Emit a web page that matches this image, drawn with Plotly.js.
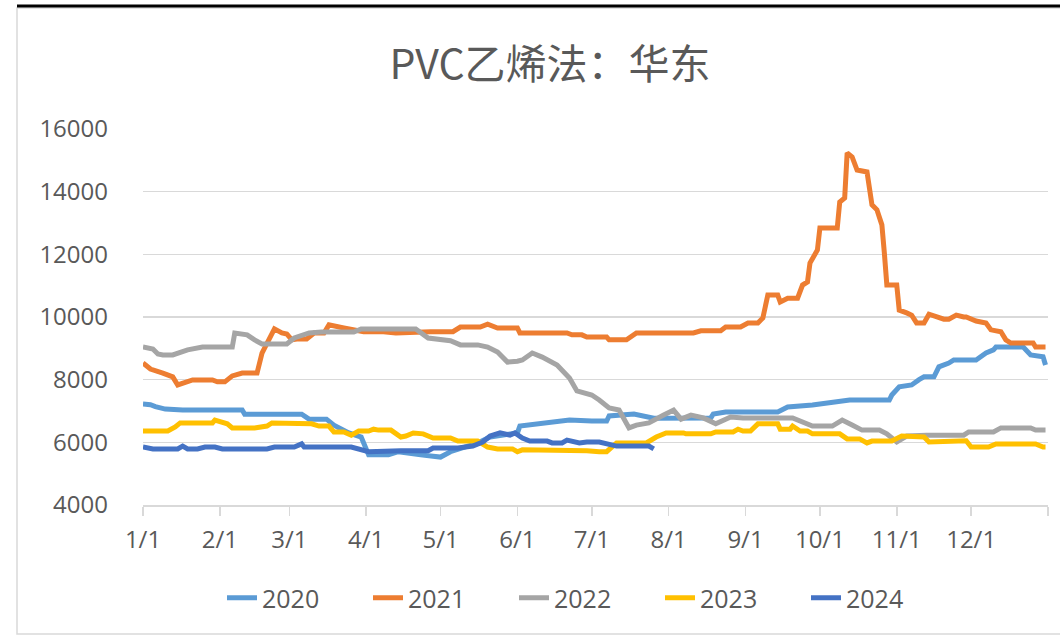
<!DOCTYPE html>
<html>
<head>
<meta charset="utf-8">
<script src="https://cdn.plot.ly/plotly-3.0.1.min.js"></script>
<style>
  html, body { margin: 0; padding: 0; background: #ffffff; }
  #chart { width: 1060px; height: 639px; }
</style>
</head>
<body>
<div id="chart"></div>
<script>
// Day of year (0 = 1/1) and price values
const day2020 = [0,3,5,9,16,40,41,64,67,74,77,83,88,91,99,103,112,120,124,135,140,151,152,161,172,181,187,188,198,206,212,229,230,235,256,260,270,282,285,301,302,305,310,313,315,319,321,325,327,336,338,340,343,344,355,358,363,364];
const val2020 = [7220,7200,7140,7060,7030,7030,6900,6900,6740,6740,6550,6300,6170,5600,5600,5700,5600,5530,5700,5980,6170,6300,6520,6620,6710,6680,6680,6840,6900,6770,6770,6780,6900,6970,6970,7130,7190,7290,7350,7350,7510,7770,7830,8000,8090,8090,8410,8530,8630,8630,8730,8850,8950,9040,9040,8790,8730,8470];

const day2021 = [0,3,8,12,14,17,20,28,30,33,36,40,46,48,50,53,56,58,60,62,66,69,73,75,81,89,97,102,116,125,128,136,139,143,151,152,171,173,177,179,187,188,195,199,222,225,233,235,241,244,248,250,252,256,257,260,264,266,268,269,272,273,280,281,283,284,286,288,292,293,294,296,298,299,300,304,305,308,310,312,315,317,320,323,325,328,331,332,336,340,342,346,348,350,359,360,364];
const val2021 = [8530,8340,8210,8090,7830,7900,7990,7990,7930,7930,8120,8210,8210,8850,9170,9620,9490,9460,9270,9300,9300,9490,9490,9750,9650,9530,9530,9490,9530,9530,9680,9680,9770,9650,9650,9490,9490,9430,9430,9360,9360,9270,9270,9490,9490,9560,9560,9680,9680,9810,9810,9970,10700,10700,10480,10600,10600,11020,11120,11720,12140,12840,12840,13670,13800,15240,15110,14690,14630,13960,13580,13420,12940,12040,11020,11020,10220,10130,10060,9810,9810,10090,10000,9930,9930,10060,10000,10000,9870,9810,9590,9530,9270,9170,9170,9040,9040];

const day2022 = [0,4,6,8,12,14,18,24,36,37,42,45,48,58,61,67,72,85,88,110,115,124,128,135,139,143,147,151,153,157,161,167,172,175,181,184,188,192,196,199,204,210,214,217,221,226,231,237,242,262,266,270,278,282,286,290,297,300,304,308,316,331,333,343,346,358,360,364];
const val2022 = [9040,8980,8820,8790,8790,8850,8950,9040,9040,9490,9430,9270,9140,9140,9330,9490,9520,9520,9620,9620,9330,9240,9110,9110,9040,8880,8560,8590,8630,8850,8720,8470,8050,7640,7510,7350,7100,7030,6460,6550,6620,6870,7030,6740,6870,6780,6590,6810,6780,6780,6650,6520,6520,6710,6550,6390,6390,6270,6010,6200,6230,6230,6330,6330,6460,6460,6390,6390];

const day2023 = [0,10,13,15,28,29,34,36,45,48,50,52,56,60,68,71,75,77,81,84,87,91,93,95,100,104,106,109,113,117,124,127,135,139,143,149,151,153,167,171,179,184,187,191,203,207,211,218,219,229,231,238,240,242,245,248,256,257,261,262,265,268,270,281,284,289,292,294,302,306,310,315,317,332,334,341,344,360,363,364];
const val2023 = [6360,6360,6490,6620,6620,6710,6590,6460,6460,6520,6520,6620,6620,6590,6590,6520,6520,6330,6330,6230,6360,6360,6420,6390,6390,6170,6200,6300,6270,6140,6140,6040,6040,5850,5790,5790,5700,5760,5760,5730,5730,5700,5700,5980,5980,6170,6300,6300,6270,6270,6330,6330,6420,6360,6360,6590,6590,6420,6420,6520,6360,6360,6270,6270,6110,6110,5980,6040,6040,6200,6170,6170,6010,6050,5850,5850,5950,5950,5850,5850];

const day2024 = [0,4,14,16,18,22,25,29,32,50,53,61,64,65,84,88,91,104,115,117,127,133,137,140,144,148,150,153,156,163,165,169,171,176,179,184,187,191,204,206];
const val2024 = [5850,5790,5790,5880,5790,5790,5850,5850,5790,5790,5850,5850,5950,5850,5850,5760,5700,5730,5730,5820,5820,5880,6010,6200,6300,6230,6300,6140,6040,6040,5980,5980,6070,5980,6010,6010,5950,5880,5880,5790];

const seriesNames = ["2020","2021","2022","2023","2024"];
const tickDays = [0,31,59,90,120,151,181,212,243,273,304,334,365];
const tickLabels = ["1/1","2/1","3/1","4/1","5/1","6/1","7/1","8/1","9/1","10/1","11/1","12/1",""];
const yTicks = [4000,6000,8000,10000,12000,14000,16000];
const titleText = "PVC乙烯法：华东";

const colors = ["#5B9BD5","#ED7D31","#A5A5A5","#FFC000","#4472C4"];
const xs = [day2020, day2021, day2022, day2023, day2024];
const ys = [val2020, val2021, val2022, val2023, val2024];

const traces = seriesNames.map((name, i) => ({
  type: "scatter",
  mode: "lines",
  name: name,
  x: xs[i],
  y: ys[i],
  line: { color: colors[i], width: 5, shape: "linear" },
  hoverinfo: "skip"
}));

// pixel -> paper helpers for the chart frame
const L = 143, R = 12, T = 129, B = 134, W = 1060, H = 639;
const pw = W - L - R, ph = H - T - B;
const px = v => (v - L) / pw;
const py = v => (H - B - v) / ph;

const layout = {
  width: W,
  height: H,
  margin: { l: L, r: R, t: T, b: B, pad: 0, autoexpand: false },
  paper_bgcolor: "#ffffff",
  plot_bgcolor: "#ffffff",
  font: { family: "'Open Sans', 'Noto Sans CJK SC', sans-serif", color: "#595959", size: 24 },
  title: {
    text: titleText,
    font: { family: "'Noto Sans CJK SC', 'Open Sans', sans-serif", size: 41, color: "#595959" },
    x: 550 / W, xref: "container", xanchor: "center",
    y: 1 - 65 / H, yref: "container", yanchor: "middle"
  },
  xaxis: {
    range: [0, 365],
    tickmode: "array",
    tickvals: tickDays,
    ticktext: tickLabels,
    showgrid: false,
    zeroline: false,
    showline: true,
    linecolor: "#D9D9D9",
    linewidth: 1.5,
    ticks: "outside",
    ticklen: 9,
    tickwidth: 1.5,
    tickcolor: "#D9D9D9",
    ticklabelstandoff: 4,
    tickfont: { size: 24, color: "#595959" },
    fixedrange: true
  },
  yaxis: {
    range: [4000, 16000],
    tickmode: "array",
    tickvals: yTicks,
    ticktext: yTicks.map(String),
    showgrid: true,
    gridcolor: "#D9D9D9",
    gridwidth: 1.5,
    zeroline: false,
    showline: false,
    ticks: "",
    ticklabelstandoff: 34,
    tickfont: { size: 24, color: "#595959" },
    fixedrange: true
  },
  showlegend: true,
  legend: {
    orientation: "h",
    x: px(222), xanchor: "left",
    y: py(598), yanchor: "middle",
    font: { size: 25, color: "#595959" },
    entrywidth: 101,
    entrywidthmode: "pixels",
    bgcolor: "rgba(0,0,0,0)"
  },
  shapes: [
    { type: "rect", xref: "paper", yref: "paper",
      x0: px(17), x1: px(1075), y0: py(634), y1: py(8),
      line: { color: "#D9D9D9", width: 1.5 }, fillcolor: "rgba(0,0,0,0)" },
    { type: "line", xref: "paper", yref: "paper",
      x0: px(17), x1: px(1060), y0: py(6), y1: py(6),
      line: { color: "#000000", width: 3 } }
  ]
};

Plotly.newPlot("chart", traces, layout, { displayModeBar: false, staticPlot: true });
</script>
</body>
</html>
